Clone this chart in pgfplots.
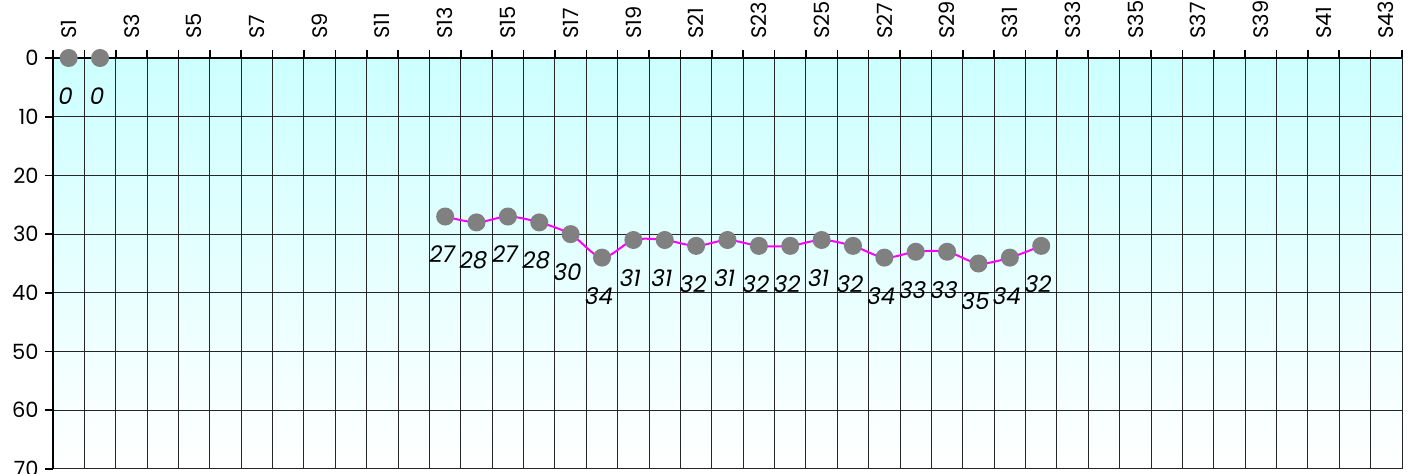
\documentclass[border=0pt]{standalone}
\usepackage{pgfplots}
\pgfplotsset{compat=1.18}
\usepackage{fontspec}
\setmainfont{Poppins}
\definecolor{bgtop}{RGB}{204,255,255}
\definecolor{ptgray}{RGB}{128,128,128}
\definecolor{linemag}{RGB}{255,0,255}
\begin{document}
\begin{tikzpicture}
\begin{axis}[
  scale only axis, width=674.5bp, height=205.5bp,
  xmin=0.5, xmax=43.5, ymin=0, ymax=70, y dir=reverse,
  axis background/.style={top color=bgtop, bottom color=white},
  font=\fontsize{10.5bp}{12bp}\selectfont,
  /pgf/number format/assume math mode=true,
  tick align=outside, major tick length=4bp,
  xtick={0.5,1.5,...,43.5}, xticklabels={},
  xtick pos=upper, xticklabel pos=upper, ytick pos=left,
  xmajorgrids, ymajorgrids,
  major grid style={black!85, line width=0.5bp},
  tick style={black, line width=0.8bp},
  ytick={0,10,...,70},
  yticklabel style={inner xsep=3bp},
  extra x ticks={1,3,...,43},
  extra x tick labels={S1,S3,S5,S7,S9,S11,S13,S15,S17,S19,S21,S23,S25,S27,S29,S31,S33,S35,S37,S39,S41,S43},
  extra x tick style={major tick length=0pt, xmajorgrids=false, xticklabel pos=upper, xticklabel style={rotate=90, anchor=west, inner xsep=9.5bp, inner ysep=1bp}},
  axis line style={black!85, line width=0.5bp},
  clip=false,
  nodes near coords, point meta=y,
  nodes near coords style={font=\fontsize{11.5bp}{13bp}\itshape, anchor=center, yshift=-19bp, xshift=-1.5bp, text=black,
    /pgf/number format/fixed, /pgf/number format/precision=0, /pgf/number format/assume math mode=true},
]
\addplot[linemag, line width=1bp, mark=*, mark size=4bp, mark options={fill=ptgray, draw=ptgray}] coordinates {(1,0) (2,0)};
\addplot[linemag, line width=1bp, smooth, mark=*, mark size=4bp, mark options={fill=ptgray, draw=ptgray}] coordinates {
(13,27) (14,28) (15,27) (16,28) (17,30) (18,34) (19,31) (20,31) (21,32) (22,31)
(23,32) (24,32) (25,31) (26,32) (27,34) (28,33) (29,33) (30,35) (31,34) (32,32)};
\draw[black, line width=1.1bp] (axis cs:0.5,70) -- (axis cs:0.5,0) -- (axis cs:43.5,0);
\end{axis}
\pgfresetboundingbox
\path (current axis.south west) ++(-26.5bp,-2.5bp) coordinate (bbA);
\path (current axis.north east) ++(5.5bp,29bp) coordinate (bbB);
\path[use as bounding box] (bbA) rectangle (bbB);
\end{tikzpicture}
\end{document}
